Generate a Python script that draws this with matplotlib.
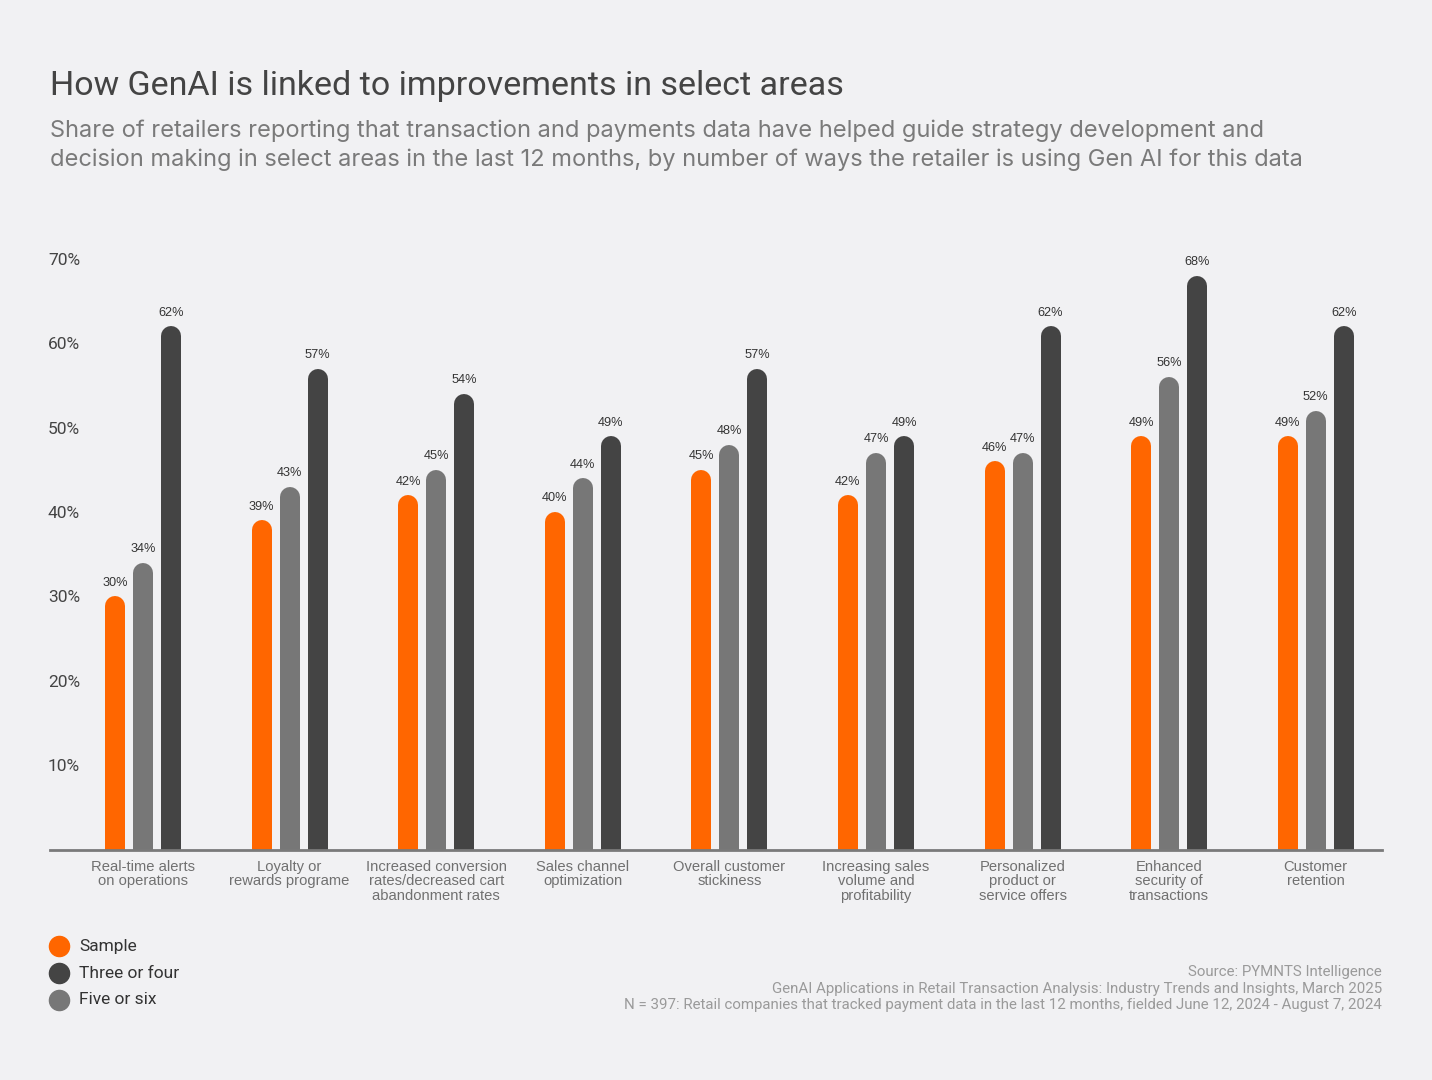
import matplotlib
matplotlib.use("Agg")
import matplotlib.pyplot as plt
from matplotlib.lines import Line2D
import numpy as np

categories = [
    "Real-time alerts\non operations",
    "Loyalty or\nrewards programe",
    "Increased conversion\nrates/decreased cart\nabandonment rates",
    "Sales channel\noptimization",
    "Overall customer\nstickiness",
    "Increasing sales\nvolume and\nprofitability",
    "Personalized\nproduct or\nservice offers",
    "Enhanced\nsecurity of\ntransactions",
    "Customer\nretention",
]
sample = [30, 39, 42, 40, 45, 42, 46, 49, 49]
five_or_six = [34, 43, 45, 44, 48, 47, 47, 56, 52]
three_or_four = [62, 57, 54, 49, 57, 49, 62, 68, 62]
yticks = [10, 20, 30, 40, 50, 60, 70]
legend_labels = ["Sample", "Three or four", "Five or six"]

BG = "#f1f1f3"
ORANGE = "#ff6600"
GREY = "#777777"
DARK = "#444444"
NARROW = ["Roboto", "DejaVu Sans"]

fig = plt.figure(figsize=(14.32, 10.8), dpi=100, facecolor=BG)
W, H = 1432, 1080

# axes placement in pixels: y=0 at 849.5, 10% = 84.4 px
y0_px = 849.5
px_per_unit = 8.436
ymax = 72
ax_left, ax_right = 50, 1382
ax = fig.add_axes([ax_left / W, (H - y0_px) / H, (ax_right - ax_left) / W,
                   ymax * px_per_unit / H])
ax.set_facecolor(BG)

x = np.arange(len(categories))
offset = 0.191
bar_px = 20
lw_pt = bar_px * 72 / 100
cap = (bar_px / 2) / px_per_unit

series = [(sample, ORANGE, -offset), (five_or_six, GREY, 0), (three_or_four, DARK, offset)]
for vals, col, off in series:
    for xi, v in zip(x, vals):
        ax.plot([xi + off, xi + off], [-cap, v - cap], color=col, lw=lw_pt,
                solid_capstyle="round", clip_on=True, zorder=2)
        ax.text(xi + off, v + 0.9, f"{v}%", ha="center", va="bottom",
                fontsize=9.2, color="#333333", family="Liberation Sans")

ax.set_xlim((ax_left - 143) / 146.6, (ax_right - 143) / 146.6)
ax.set_ylim(0, ymax)
for s in ["top", "right", "left"]:
    ax.spines[s].set_visible(False)
ax.spines["bottom"].set_color("#7a7a7a")
ax.spines["bottom"].set_linewidth(2)
ax.spines["bottom"].set_zorder(3)

ax.set_yticks(yticks)
ax.set_yticklabels([f"{t}%" for t in yticks], ha="left", family=NARROW,
                   fontsize=12.5, color="#444444")
ax.tick_params(axis="y", length=0, pad=1.5)

ax.set_xticks(x)
ax.set_xticklabels(categories, fontsize=10.6, color="#707070",
                   family="Liberation Sans", linespacing=1.03, va="top")
ax.tick_params(axis="x", length=0, pad=7.5)

fig.text(50 / W, 1 - 86 / H, "How GenAI is linked to improvements in select areas",
         fontsize=24.5, color="#444444", family=NARROW, va="center", ha="left")
fig.text(50 / W, 1 - 145 / H,
         "Share of retailers reporting that transaction and payments data have helped guide strategy development and\n"
         "decision making in select areas in the last 12 months, by number of ways the retailer is using Gen AI for this data",
         fontsize=17, color="#7a7a7a", family="Inter", va="center", ha="left",
         linespacing=1.36)

# legend drawn by hand: dots and labels
for i, (lab, col) in enumerate(zip(legend_labels, (ORANGE, DARK, GREY))):
    yy = 1 - (946 + 27 * i) / H
    fig.add_artist(Line2D([59 / W], [yy], marker="o", ls="", markersize=14.5,
                          color=col, transform=fig.transFigure))
    fig.text(79 / W, yy, lab, fontsize=12.5, color="#333333", family=NARROW,
             va="center", ha="left")

fig.text(1382 / W, 1 - 988.5 / H,
         "Source: PYMNTS Intelligence\n"
         "GenAI Applications in Retail Transaction Analysis: Industry Trends and Insights, March 2025\n"
         "N = 397: Retail companies that tracked payment data in the last 12 months, fielded June 12, 2024 - August 7, 2024",
         fontsize=10.8, color="#9a9a9a", family=NARROW, ha="right", va="center",
         linespacing=1.25)

fig.savefig("out.png", dpi=100, facecolor=BG)
